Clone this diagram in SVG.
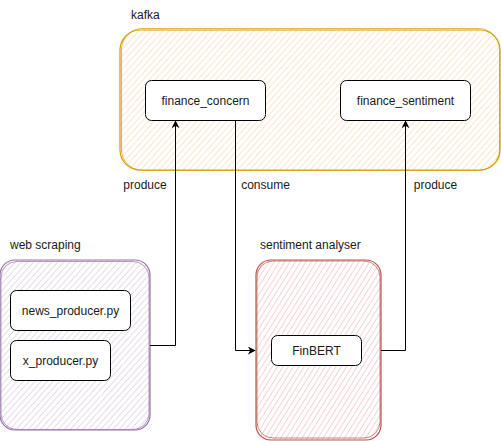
<svg xmlns="http://www.w3.org/2000/svg" width="501" height="441" viewBox="0 0 501 441">
<style>
text{font-family:"Liberation Sans",Arial,sans-serif;font-size:12px;fill:#1a1a1a}
.node{fill:#fff;stroke:#000;stroke-width:1}
.edge{fill:none;stroke:#000;stroke-width:1}
.c{text-anchor:middle}
</style>
<defs>
<pattern id="hO" width="4.5" height="4.5" patternUnits="userSpaceOnUse" patternTransform="rotate(-48)"><line x1="0" y1="2.25" x2="4.5" y2="2.25" stroke="#fde3c6" stroke-width="0.9"/></pattern>
<pattern id="hP" width="4.5" height="4.5" patternUnits="userSpaceOnUse" patternTransform="rotate(-48)"><line x1="0" y1="2.25" x2="4.5" y2="2.25" stroke="#e3d8ea" stroke-width="0.9"/></pattern>
<pattern id="hR" width="4.5" height="4.5" patternUnits="userSpaceOnUse" patternTransform="rotate(-58)"><line x1="0" y1="2.25" x2="4.5" y2="2.25" stroke="#f8d0ce" stroke-width="0.9"/></pattern>
<marker id="arr" viewBox="0 0 10 10" refX="9" refY="5" markerWidth="8" markerHeight="8" markerUnits="userSpaceOnUse" orient="auto"><path d="M0,0 L10,5 L0,10 L3,5 Z" fill="#000"/></marker>
</defs>
<g id="kafka">
<rect x="120" y="30" width="380" height="140" rx="20" fill="url(#hO)"/>
<rect x="120" y="30" width="380" height="140" rx="20" fill="none" stroke="#d79b00" stroke-width="1.2"/>
<rect x="121.5" y="28.5" width="378" height="142" rx="21" fill="none" stroke="#d79b00" stroke-width="0.9" opacity="0.8"/>
<text x="131" y="19">kafka</text>
</g>
<g id="web_scraping">
<rect x="0" y="260" width="150" height="170" rx="15" fill="url(#hP)"/>
<rect x="0" y="260" width="150" height="170" rx="15" fill="none" stroke="#9673a6" stroke-width="1.2"/>
<rect x="1" y="261.5" width="148" height="168" rx="16" fill="none" stroke="#9673a6" stroke-width="0.9" opacity="0.8"/>
<text x="10" y="249">web scraping</text>
</g>
<g id="sentiment_analyser">
<rect x="256" y="260" width="125" height="180" rx="15" fill="url(#hR)"/>
<rect x="256" y="260" width="125" height="180" rx="15" fill="none" stroke="#b85450" stroke-width="1.2"/>
<rect x="257" y="261" width="123" height="177" rx="16" fill="none" stroke="#b85450" stroke-width="0.9" opacity="0.8"/>
<text x="260" y="249">sentiment analyser</text>
</g>
<g id="finance_concern">
<rect class="node" x="145.5" y="80.5" width="120" height="40" rx="6"/>
<text class="c" x="205.5" y="104.5">finance_concern</text>
</g>
<g id="finance_sentiment">
<rect class="node" x="340.5" y="80.5" width="130" height="40" rx="6"/>
<text class="c" x="405.5" y="104.5">finance_sentiment</text>
</g>
<g id="news_producer">
<rect class="node" x="10.5" y="290.5" width="120" height="40" rx="6"/>
<text class="c" x="70.5" y="314.5">news_producer.py</text>
</g>
<g id="x_producer">
<rect class="node" x="10.5" y="340.5" width="100" height="40" rx="6"/>
<text class="c" x="60.5" y="364.5">x_producer.py</text>
</g>
<g id="finbert">
<rect class="node" x="271.5" y="335.5" width="90" height="30" rx="6"/>
<text class="c" x="316.5" y="354.5">FinBERT</text>
</g>
<g id="connectors">
<path class="edge" d="M150,345.5 H175.5 V121" marker-end="url(#arr)"/>
<path class="edge" d="M235.5,120.5 V350.5 H255" marker-end="url(#arr)"/>
<path class="edge" d="M381,350.5 H405.5 V121" marker-end="url(#arr)"/>
<text class="c" x="145" y="189">produce</text>
<text class="c" x="265.5" y="189">consume</text>
<text class="c" x="435.5" y="189">produce</text>
</g>
</svg>
